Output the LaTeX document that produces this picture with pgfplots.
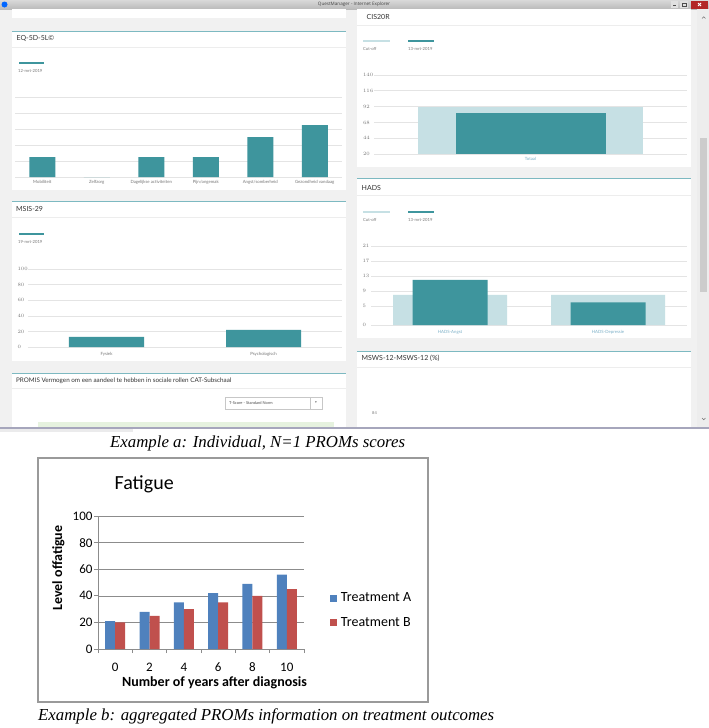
\documentclass[border=0pt]{standalone}
\usepackage{pgfplots}
\pgfplotsset{compat=1.18}
\usepackage{fontspec}
\setmainfont{Carlito}
\newfontfamily\lato{Lato}
\newfontfamily\uifont{Open Sans}
\newfontfamily\timesf{Liberation Serif}
\newfontfamily\dejavu{DejaVu Sans}
\newcommand{\fs}[1]{\fontsize{#1}{#1}\selectfont}
\definecolor{teal1}{HTML}{3E959D}
\definecolor{tealL}{HTML}{C6E0E4}
\definecolor{tealLine}{HTML}{7DB9C1}
\definecolor{bggray}{HTML}{F1F1F1}
\definecolor{gridc}{HTML}{E4E4E4}
\definecolor{sepc}{HTML}{EDEDED}
\definecolor{labgray}{HTML}{777777}
\definecolor{xlab}{HTML}{7AAFC7}
\definecolor{xlA}{HTML}{4F81BD}
\definecolor{xlB}{HTML}{C0504D}
\definecolor{axgray}{HTML}{8C8C8C}
\definecolor{boxgray}{HTML}{9A9A9A}
\definecolor{lgreen}{HTML}{E6F2DF}
\pgfplotsset{
  qm/.style={scale only axis, anchor=south west,
    axis line style={draw=none}, tick style={draw=none},
    ymajorgrids, grid style={draw=gridc, line width=0.6pt},
    xticklabel style={font=\lato\fs{4.3}, text=labgray},
    yticklabel style={font=\lato\fs{4}, text=labgray},
  },
}
\begin{document}
\begin{tikzpicture}
\begin{scope}[x=1pt,y=-1pt]
  % screenshot background
  \fill[bggray] (0,9) rectangle (709,428);
  % title bar
  \shade[top color=black!15, bottom color=black!27] (0,0) rectangle (709,9);
  \fill[blue!60!cyan] (4.5,4.5) circle (3);
  \node[font=\uifont\fs{4.6}, text=black!75] at (354,4.6) {QuestManager - Internet Explorer};
  \fill[black!12] (671,1) rectangle (678,8);
  \draw[black!70, line width=0.8] (673,5.5) -- (676,5.5);
  \fill[black!12] (680,1) rectangle (688,8);
  \draw[black!70, line width=0.6] (682,3) rectangle (686,6.5);
  \fill[red!65!black!85] (691,0.5) rectangle (708,8.5);
  \draw[white, line width=0.8] (698,3) -- (701,6) (698,6) -- (701,3);
  % scrollbar
  \fill[black!7] (697,9) rectangle (709,428);
  \fill[black!20] (700,138) rectangle (707,292);
  \draw[black!55, line width=0.5] (702,18.5) -- (703.7,16.8) -- (705.4,18.5);
  \draw[black!55, line width=0.5] (702,418) -- (703.7,419.7) -- (705.4,418);
  % left panels
  \fill[white] (12,9) rectangle (346,18);
  \fill[white] (12,30.5) rectangle (346,190);
  \draw[tealLine, line width=0.9] (12,31) -- (346,31);
  \draw[sepc, line width=0.7] (12,47) -- (346,47);
  \node[anchor=west, font=\lato\fs{7}, text=black!80, inner sep=0] at (16.5,38.5) {EQ-5D-5L©};
  \draw[teal1, line width=1.4] (19,63) -- (44,63);
  \node[anchor=west, font=\lato\fs{4.2}, text=labgray, inner sep=0] at (18,71) {12-mrt-2019};
  \fill[white] (12,200.5) rectangle (346,361);
  \draw[tealLine, line width=0.9] (12,201) -- (346,201);
  \draw[sepc, line width=0.7] (12,217) -- (346,217);
  \node[anchor=west, font=\lato\fs{7}, text=black!80, inner sep=0] at (16,209) {MSIS-29};
  \draw[teal1, line width=1.4] (19,234) -- (44,234);
  \node[anchor=west, font=\lato\fs{4.2}, text=labgray, inner sep=0] at (18,242) {19-mrt-2019};
  \fill[white] (12,372.5) rectangle (346,428);
  \draw[tealLine, line width=0.9] (12,373) -- (346,373);
  \draw[sepc, line width=0.7] (12,388) -- (346,388);
  \node[anchor=west, font=\lato\fs{6.3}, text=black!80, inner sep=0] at (16,381) {PROMIS Vermogen om een aandeel te hebben in sociale rollen CAT-Subschaal};
  \draw[black!22, fill=white, line width=0.5] (225,397) rectangle (322,409);
  \draw[black!22, line width=0.5] (310,397) -- (310,409);
  \node[anchor=west, font=\lato\fs{4}, text=black!70, inner sep=0] at (229,403) {T-Score - Standard Norm};
  \node[font=\dejavu\fs{3.5}, text=black!60, inner sep=0] at (316,403) {▾};
  \fill[lgreen] (38,422) rectangle (334,428);
  % right panels
  \fill[white] (357,9) rectangle (691,167);
  \draw[sepc, line width=0.7] (357,25) -- (691,25);
  \node[anchor=west, font=\lato\fs{7}, text=black!80, inner sep=0] at (366.5,17) {CIS20R};
  \draw[tealL, line width=1.4] (363,41) -- (390,41);
  \draw[teal1, line width=1.4] (408,41) -- (434,41);
  \node[anchor=west, font=\lato\fs{4.2}, text=labgray, inner sep=0] at (363,48.5) {Cut-off};
  \node[anchor=west, font=\lato\fs{4.2}, text=labgray, inner sep=0] at (408,48.5) {13-mrt-2019};
  \fill[white] (357,177.5) rectangle (691,338);
  \draw[tealLine, line width=0.9] (357,178) -- (691,178);
  \draw[sepc, line width=0.7] (357,195) -- (691,195);
  \node[anchor=west, font=\lato\fs{7}, text=black!80, inner sep=0] at (361.5,188) {HADS};
  \draw[tealL, line width=1.4] (363,212) -- (390,212);
  \draw[teal1, line width=1.4] (408,212) -- (434,212);
  \node[anchor=west, font=\lato\fs{4.2}, text=labgray, inner sep=0] at (363,220) {Cut-off};
  \node[anchor=west, font=\lato\fs{4.2}, text=labgray, inner sep=0] at (408,220) {13-mrt-2019};
  \fill[white] (357,350.5) rectangle (691,428);
  \draw[tealLine, line width=0.9] (357,351) -- (691,351);
  \draw[sepc, line width=0.7] (357,367) -- (691,367);
  \node[anchor=west, font=\lato\fs{7}, text=black!80, inner sep=0] at (361.5,358) {MSWS-12-MSWS-12 (\%)};
  \node[anchor=west, font=\lato\fs{4}, text=labgray, inner sep=0] at (372,413) {84};
  % taskbar edge
  \fill[blue!25!black!35] (0,427) rectangle (709,429);
  \fill[blue!8!black!8] (0,429) rectangle (133,432);
  % Fatigue box
  \draw[boxgray, line width=1.2] (38,458) rectangle (428,702);
  \node[anchor=base west, font=\fs{20}, inner sep=0] at (114.5,489) {Fatigue};
  \node[rotate=90, anchor=base, font=\bfseries\fs{14}, inner sep=0] at (62,568) {Level offatigue};
  \node[anchor=base, font=\bfseries\fs{14}, inner sep=0] at (214.5,686) {Number of years after diagnosis};
  % captions
  \node[anchor=base west, font=\timesf\itshape\fs{16.8}, inner sep=0] at (110,447) {Example a: Individual, N=1 PROMs scores};
  \node[anchor=base west, font=\timesf\itshape\fs{16.8}, inner sep=0] at (38,720) {Example b: aggregated PROMs information on treatment outcomes};
\end{scope}

% EQ-5D-5L chart
\begin{axis}[qm, at={(15pt,-177pt)}, width=327pt, height=80pt,
  xmin=-0.5, xmax=5.5, ymin=0, ymax=5, ytick={0,...,5}, yticklabels={},
  xtick={0,...,5},
  xticklabels={Mobiliteit, Zelfzorg, Dagelijkse activiteiten, Pijn/ongemak, Angst/somberheid, Gezondheid vandaag}]
  \addplot[ybar, bar width=26pt, fill=teal1, draw=none] coordinates {(0,1.25) (1,0) (2,1.25) (3,1.25) (4,2.5) (5,3.25)};
\end{axis}

% MSIS-29 chart
\begin{axis}[qm, at={(28pt,-347pt)}, width=314pt, height=78pt,
  xmin=-0.5, xmax=1.5, ymin=0, ymax=100, ytick={0,20,...,100},
  yticklabel style={anchor=west, xshift=-14pt},
  xtick={0,1}, xticklabels={Fysiek, Psychologisch}, xticklabel style={yshift=-1.5pt}]
  \addplot[ybar, bar width=75pt, fill=teal1, draw=none] coordinates {(0,13) (1,22)};
\end{axis}

% CIS20R chart
\begin{axis}[qm, at={(374pt,-154pt)}, width=313pt, height=79pt,
  xmin=-1, xmax=1, ymin=20, ymax=140, ytick={20,44,...,140},
  yticklabel style={anchor=west, xshift=-14.5pt},
  xtick={0}, xticklabels={Totaal}, xticklabel style={text=xlab}]
  \addplot[ybar, bar shift=0pt, bar width=225pt, fill=tealL, draw=none] coordinates {(0,91)};
  \addplot[ybar, bar shift=0pt, bar width=150pt, fill=teal1, draw=none] coordinates {(0,82)};
\end{axis}

% HADS chart
\begin{axis}[qm, at={(371pt,-325pt)}, width=316pt, height=79pt,
  xmin=-0.5, xmax=1.5, ymin=0, ymax=21, ytick={0,5,9,13,17,21},
  yticklabel style={anchor=west, xshift=-12pt},
  xtick={0,1}, xticklabels={HADS-Angst, HADS-Depressie}, xticklabel style={text=xlab, yshift=-2pt}]
  \addplot[ybar, bar shift=0pt, bar width=114pt, fill=tealL, draw=none] coordinates {(0,8) (1,8)};
  \addplot[ybar, bar shift=0pt, bar width=75pt, fill=teal1, draw=none] coordinates {(0,12) (1,6)};
\end{axis}

% Fatigue chart
\begin{axis}[at={(98pt,-649pt)}, anchor=south west, scale only axis,
  width=206pt, height=133pt,
  xmin=-0.5, xmax=5.5, ymin=0, ymax=100,
  ybar=0pt, bar width=10pt,
  xtick={-0.5,0.5,...,5.5}, xticklabels={},
  extra x ticks={0,1,2,3,4,5}, extra x tick labels={0,2,4,6,8,10},
  extra x tick style={major tick length=0pt, grid=none, tick label style={inner sep=0pt, yshift=-13.5pt}},
  ytick={0,20,...,100},
  tick align=outside, tick pos=left,
  major tick length=4pt,
  axis x line*=bottom, axis y line*=left,
  axis line style={draw=axgray, line width=0.8pt},
  tick style={draw=axgray, line width=0.8pt},
  ymajorgrids, grid style={draw=axgray, line width=0.6pt},
  tick label style={font=\fs{13}, text=black, /pgf/number format/assume math mode=true},
  yticklabel style={xshift=2pt},
  legend style={at={(1.125,0.29)}, anchor=west, draw=none, fill=none,
    font=\fs{14}, row sep=10pt, inner sep=0pt},
  legend cell align=left,
  legend image code/.code={\fill[#1] (0pt,-3.5pt) rectangle (7pt,3.5pt);},
  ]
  \addplot[fill=xlA, draw=none] coordinates {(0,21) (1,28) (2,35) (3,42) (4,49) (5,56)};
  \addplot[fill=xlB, draw=none] coordinates {(0,20) (1,25) (2,30) (3,35) (4,40) (5,45)};
  \legend{\hspace{2pt}Treatment A, \hspace{2pt}Treatment B}
\end{axis}

\pgfresetboundingbox
\path[use as bounding box] (0pt,0pt) rectangle (709pt,-728pt);
\end{tikzpicture}
\end{document}
